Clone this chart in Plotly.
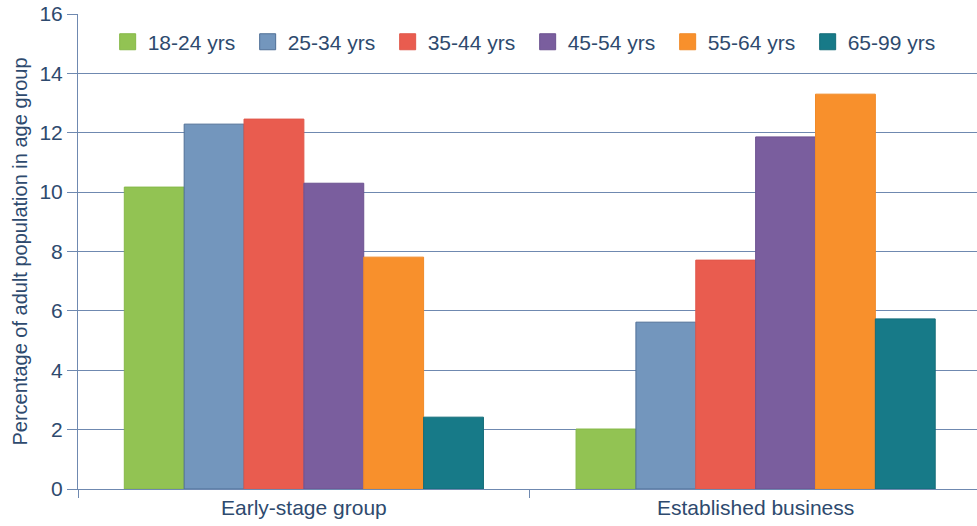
import plotly.graph_objects as go

categories = ["Early-stage group", "Established business"]
age_groups = ["18-24 yrs", "25-34 yrs", "35-44 yrs", "45-54 yrs", "55-64 yrs", "65-99 yrs"]
values = {
    "18-24 yrs": [10.17, 2.02],
    "25-34 yrs": [12.29, 5.62],
    "35-44 yrs": [12.46, 7.71],
    "45-54 yrs": [10.30, 11.86],
    "55-64 yrs": [7.81, 13.30],
    "65-99 yrs": [2.42, 5.73],
}
colors = ["#92c353", "#7396bd", "#e95c4f", "#7a5e9e", "#f8902c", "#177a88"]
outlines = ["#86b848", "#4f6f96", "#e0584b", "#6d5290", "#f08a28", "#146c78"]

text_color = "#2e4a6e"
grid_color = "#6f89b0"

fig = go.Figure()
for name, col, oc in zip(age_groups, colors, outlines):
    fig.add_trace(go.Bar(
        x=categories, y=values[name], name=name,
        legendgroup=name, showlegend=False,
        marker=dict(color=col, line=dict(color=oc, width=1)),
    ))

# legend keys: larger square swatches for each age group
for name, col, oc in zip(age_groups, colors, outlines):
    fig.add_trace(go.Scatter(
        x=[None], y=[None], mode="markers", name=name, legendgroup=name,
        marker=dict(symbol="square", size=16, color=col, line=dict(color=oc, width=1)),
    ))

fig.update_layout(
    width=977, height=526,
    margin=dict(l=78, r=0, t=14, b=37, autoexpand=False),
    paper_bgcolor="white", plot_bgcolor="white",
    barmode="group", bargap=0.205, bargroupgap=0,
    font=dict(family="Liberation Sans, Arial, sans-serif", color=text_color, size=21),
    legend=dict(
        orientation="h", x=0.033, y=0.984, xanchor="left", yanchor="top",
        font=dict(size=21, color=text_color),
        entrywidth=95, entrywidthmode="pixels",
        bgcolor="rgba(255,255,255,0)", itemsizing="trace",
    ),
    showlegend=True,
)
fig.update_xaxes(
    type="category", range=[-0.5, 1.49],
    showline=True, linecolor=grid_color, linewidth=1,
    ticks="outside", tickson="boundaries", ticklen=8, tickcolor=grid_color,
    tickfont=dict(size=21, color=text_color), showgrid=False,
)
fig.update_yaxes(
    range=[0, 16], dtick=2, tick0=0,
    showline=True, linecolor=grid_color, linewidth=1,
    ticks="outside", ticklen=10, tickcolor=grid_color,
    showgrid=True, gridcolor=grid_color, gridwidth=1,
    zeroline=False,
    tickfont=dict(size=21, color=text_color),
    title=dict(text="Percentage of adult population in age group", font=dict(size=20, color=text_color), standoff=6),
)

fig.write_html("out.html")
